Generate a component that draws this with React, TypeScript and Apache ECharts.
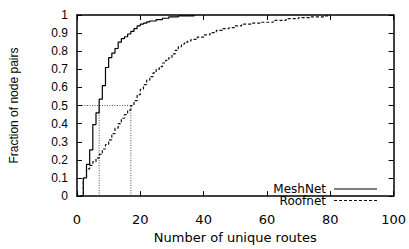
import React, { useEffect, useRef } from "react";
import * as echarts from "echarts";

const meshX = [1, 2, 3, 4, 5, 6, 7, 8, 9, 10, 11, 12, 13, 14, 15, 16, 17, 18, 19, 20, 21, 22, 23, 25, 27, 29, 32, 37];
const meshY = [0, 0.1, 0.175, 0.255, 0.395, 0.46, 0.535, 0.61, 0.71, 0.765, 0.79, 0.815, 0.85, 0.87, 0.88, 0.895, 0.91, 0.925, 0.94, 0.95, 0.955, 0.962, 0.967, 0.975, 0.982, 0.99, 0.995, 1.0];

const roofX = [1, 2, 3, 4, 5, 6, 7, 8, 9, 10, 11, 12, 13, 14, 15, 16, 17, 18, 19, 20, 21, 22, 23, 24, 25, 26, 27, 28, 29, 30, 31, 32, 33, 34, 35, 36, 38, 40, 42, 44, 46, 48, 50, 52, 55, 58, 62, 66, 70, 74, 78, 80];
const roofY = [0, 0.1, 0.15, 0.17, 0.19, 0.21, 0.23, 0.26, 0.285, 0.31, 0.345, 0.375, 0.4, 0.43, 0.45, 0.475, 0.5, 0.527, 0.56, 0.59, 0.615, 0.64, 0.66, 0.68, 0.7, 0.715, 0.735, 0.75, 0.765, 0.785, 0.805, 0.825, 0.84, 0.85, 0.857, 0.865, 0.878, 0.89, 0.903, 0.915, 0.925, 0.93, 0.94, 0.95, 0.955, 0.96, 0.97, 0.98, 0.986, 0.99, 0.995, 1.0];

const medianLevel = 0.5;
const meshMedian = 7;
const roofMedian = 17;

const seriesNames = ["MeshNet", "Roofnet"];
const xTitle = "Number of unique routes";
const yTitle = "Fraction of node pairs";

const zip = (xs: number[], ys: number[]) => xs.map((x, i) => [x, ys[i]]);

export default function App() {
  const ref = useRef<HTMLDivElement>(null);
  useEffect(() => {
    if (!ref.current) return;
    const chart = echarts.init(ref.current, null, { renderer: "svg" });
    const black = "#000";
    const tickFont = "Liberation Sans";
    const xFont = "DejaVu Sans";
    const dotted = { color: "#222", width: 0.8, type: [1, 1.5] as any };
    chart.setOption({
      animation: false,
      grid: { left: 74, right: 15, top: 15, bottom: 37.5, containLabel: false },
      xAxis: [
        {
          type: "value",
          min: 0,
          max: 100,
          interval: 20,
          position: "bottom",
          axisLine: { show: true, onZero: false, lineStyle: { color: black, width: 1.5 } },
          axisTick: { show: true, inside: true, length: 5, lineStyle: { color: black, width: 1 } },
          axisLabel: { color: black, fontFamily: xFont, fontSize: 13, margin: 17 },
          splitLine: { show: false },
          name: xTitle,
          nameLocation: "middle",
          nameGap: 31,
          nameTextStyle: { color: black, fontFamily: xFont, fontSize: 13 },
        },
        {
          type: "value",
          min: 0,
          max: 100,
          interval: 20,
          position: "top",
          axisLine: { show: true, onZero: false, lineStyle: { color: black, width: 1.5 } },
          axisTick: { show: true, inside: true, length: 5, lineStyle: { color: black, width: 1 } },
          axisLabel: { show: false },
          splitLine: { show: false },
        },
      ],
      yAxis: [
        {
          type: "value",
          min: 0,
          max: 1,
          interval: 0.1,
          position: "left",
          axisLine: { show: true, onZero: false, lineStyle: { color: black, width: 1.5 } },
          axisTick: { show: true, inside: true, length: 5, lineStyle: { color: black, width: 1 } },
          axisLabel: {
            color: black,
            fontFamily: tickFont,
            fontSize: 12,
            margin: 9,
            formatter: (v: number) => String(Math.round(v * 10) / 10),
          },
          splitLine: { show: false },
          name: yTitle,
          nameLocation: "middle",
          nameGap: 57,
          nameRotate: 90,
          nameTextStyle: { color: black, fontFamily: tickFont, fontSize: 12 },
        },
        {
          type: "value",
          min: 0,
          max: 1,
          interval: 0.1,
          position: "right",
          axisLine: { show: true, onZero: false, lineStyle: { color: black, width: 1.5 } },
          axisTick: { show: true, inside: true, length: 5, lineStyle: { color: black, width: 1 } },
          axisLabel: { show: false },
          splitLine: { show: false },
        },
      ],
      series: [
        {
          name: seriesNames[0],
          type: "line",
          step: "end",
          data: zip(meshX, meshY),
          showSymbol: false,
          lineStyle: { color: black, width: 1.2 },
          z: 3,
        },
        {
          name: seriesNames[1],
          type: "line",
          step: "end",
          data: zip(roofX, roofY),
          showSymbol: false,
          lineStyle: { color: "#111", width: 1.2, type: [3, 2] },
          z: 3,
        },
        {
          type: "line",
          data: [[0, medianLevel], [roofMedian, medianLevel]],
          showSymbol: false,
          lineStyle: dotted,
          z: 2,
        },
        {
          type: "line",
          data: [[meshMedian, 0], [meshMedian, medianLevel]],
          showSymbol: false,
          lineStyle: dotted,
          z: 2,
        },
        {
          type: "line",
          data: [[roofMedian, 0], [roofMedian, medianLevel]],
          showSymbol: false,
          lineStyle: dotted,
          z: 2,
        },
      ],
      graphic: [
        {
          type: "text",
          x: 326,
          y: 188.5,
          style: {
            text: seriesNames[0],
            fill: black,
            font: "12px 'DejaVu Sans'",
            lineHeight: 11,
            align: "right",
            verticalAlign: "middle",
          },
        },
        {
          type: "line",
          shape: { x1: 334, y1: 189, x2: 377, y2: 189 },
          style: { stroke: black, lineWidth: 1.2 },
        },
        {
          type: "text",
          x: 326,
          y: 201,
          style: {
            text: seriesNames[1],
            fill: black,
            font: "12px 'DejaVu Sans'",
            lineHeight: 11,
            align: "right",
            verticalAlign: "middle",
          },
        },
        {
          type: "line",
          shape: { x1: 334, y1: 200.5, x2: 377, y2: 200.5 },
          style: { stroke: "#111", lineWidth: 1.2, lineDash: [3, 2] },
        },
      ],
    });
    return () => chart.dispose();
  }, []);
  return (
    <div
      ref={ref}
      style={{ position: "fixed", left: 0, top: 0, width: 409, height: 249, background: "#fff" }}
    />
  );
}
